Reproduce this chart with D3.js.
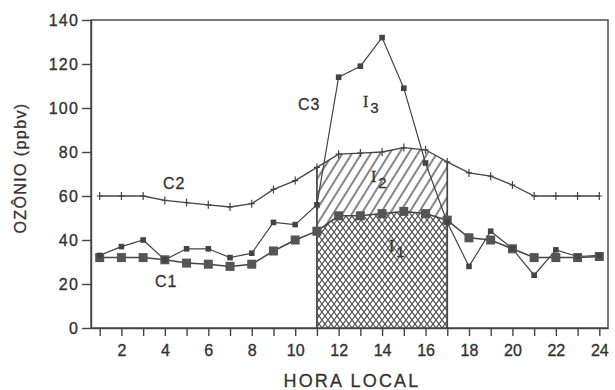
<!DOCTYPE html>
<html>
<head>
<meta charset="utf-8">
<script src="https://cdn.jsdelivr.net/npm/d3@7"></script>
<style>
  body { margin: 0; background: #fff; }
  svg { display: block; font-family: "Liberation Sans", Arial, sans-serif; }
  .axis text { font-size: 16px; fill: #333; stroke: #333; stroke-width: 0.35; }
  .axis path, .axis line { stroke: #444; stroke-width: 1.4; }
</style>
</head>
<body>
<svg class="oz"></svg>
<script>
// hour of day
var hours = [1,2,3,4,5,6,7,8,9,10,11,12,13,14,15,16,17,18,19,20,21,22,23,24];
// ozone, ppbv
var c1 = [32,32,32,31,29.5,29,28,29,35,40,44,51,51,52,53,52,49,41,40,36,32,32,32,32.5];
var c2 = [60,60,60,58,57,56,55,56.5,63,67,73,79,79.5,80,82,81,75.5,70.5,69,65,60,60,60,60];
var c3 = [33,37,40,31,36,36,32,34,48,47,56,114,119,132,109,75,48,28,44,36,24,35.5,32.5,33];
var yTicks = [0,20,40,60,80,100,120,140];
var areaStart = 11, areaEnd = 17;

var margin = {top: 20, right: 7, bottom: 62, left: 91},
    width = 615 - margin.left - margin.right,
    height = 390 - margin.top - margin.bottom;

var svg = d3.select(".oz")
    .attr("width", width + margin.left + margin.right)
    .attr("height", height + margin.top + margin.bottom)
  .append("g")
    .attr("transform", "translate(" + margin.left + "," + margin.top + ")");

var x = d3.scaleLinear().domain([0.6, 24.4]).range([0, width]);
var y = d3.scaleLinear().domain([0, 140]).range([height, 0]);

var ink = "#444";

// hatch patterns
var defs = svg.append("defs");
defs.append("pattern")
    .attr("id", "cross")
    .attr("width", 6).attr("height", 8)
    .attr("patternUnits", "userSpaceOnUse")
  .append("path")
    .attr("d", "M0,0L6,8M6,0L0,8")
    .attr("stroke", "#555").attr("stroke-width", 1.3);
defs.append("pattern")
    .attr("id", "diag")
    .attr("width", 8).attr("height", 8)
    .attr("patternUnits", "userSpaceOnUse")
    .attr("patternTransform", "rotate(32)")
  .append("line")
    .attr("x1", 4).attr("y1", 0).attr("x2", 4).attr("y2", 8)
    .attr("stroke", ink).attr("stroke-width", 1.3);

var data = hours.map(function(h, i) { return {h: h, c1: c1[i], c2: c2[i], c3: c3[i]}; });
var inside = data.filter(function(d) { return d.h >= areaStart && d.h <= areaEnd; });

// I1: 0 up to C1, I2: C1 up to C2
svg.append("path")
    .datum(inside)
    .attr("fill", "url(#cross)")
    .attr("d", d3.area().x(function(d) { return x(d.h); }).y0(y(0)).y1(function(d) { return y(d.c1); }));
svg.append("path")
    .datum(inside)
    .attr("fill", "url(#diag)")
    .attr("d", d3.area().x(function(d) { return x(d.h); }).y0(function(d) { return y(d.c1); }).y1(function(d) { return y(d.c2); }));

[inside[0], inside[inside.length - 1]].forEach(function(d) {
  svg.append("line")
      .attr("x1", x(d.h)).attr("x2", x(d.h))
      .attr("y1", y(0)).attr("y2", y(d.c2))
      .attr("stroke", ink).attr("stroke-width", 1.7);
});

// frame
svg.append("rect")
    .attr("width", width).attr("height", height)
    .attr("fill", "none").attr("stroke", ink).attr("stroke-width", 1.4);

var xAxis = d3.axisBottom(x)
    .tickValues(hours)
    .tickSize(8).tickSizeOuter(0).tickPadding(9)
    .tickFormat(function(d) { return d % 2 === 0 ? d : ""; });
var yAxis = d3.axisLeft(y)
    .tickValues(yTicks)
    .tickSize(9).tickSizeOuter(0).tickPadding(3);

svg.append("g")
    .attr("class", "x axis")
    .attr("transform", "translate(0," + height + ")")
    .call(xAxis);
svg.append("g")
    .attr("class", "y axis")
    .call(yAxis)
  .selectAll("text")
    .attr("letter-spacing", 1.2);

function line(key) {
  return d3.line().x(function(d) { return x(d.h); }).y(function(d) { return y(d[key]); });
}

svg.append("path").datum(data)
    .attr("fill", "none").attr("stroke", ink).attr("stroke-width", 1.3)
    .attr("d", line("c2"));
svg.append("path").datum(data)
    .attr("fill", "none").attr("stroke", ink).attr("stroke-width", 1.2)
    .attr("d", line("c3"));
svg.append("path").datum(data)
    .attr("fill", "none").attr("stroke", ink).attr("stroke-width", 1.5)
    .attr("d", line("c1"));

// markers
svg.selectAll(".m2").data(data).enter().append("path")
    .attr("class", "m2")
    .attr("stroke", ink).attr("stroke-width", 1.2)
    .attr("d", function(d) { var px = x(d.h), py = y(d.c2); return "M" + px + "," + (py - 4) + "V" + (py + 4) + "M" + (px - 3) + "," + py + "H" + (px + 3); });
svg.selectAll(".m1").data(data).enter().append("rect")
    .attr("class", "m1")
    .attr("x", function(d) { return x(d.h) - 4.5; })
    .attr("y", function(d) { return y(d.c1) - 4.5; })
    .attr("width", 9).attr("height", 9)
    .attr("fill", "#555");
svg.selectAll(".m3").data(data).enter().append("rect")
    .attr("class", "m3")
    .attr("x", function(d) { return x(d.h) - 2.8; })
    .attr("y", function(d) { return y(d.c3) - 2.8; })
    .attr("width", 5.6).attr("height", 5.6)
    .attr("fill", "#444");

// curve and area labels
var labels = svg.append("g").attr("fill", "#333").attr("stroke", "#333").attr("stroke-width", 0.3)
    .attr("font-size", 16).attr("letter-spacing", 1);
labels.append("text").attr("x", 163 - margin.left).attr("y", 189 - margin.top).text("C2");
labels.append("text").attr("x", 155 - margin.left).attr("y", 287 - margin.top).text("C1");
labels.append("text").attr("x", 298 - margin.left).attr("y", 110 - margin.top).text("C3");

function iLabel(px, py, sub) {
  var t = labels.append("text")
      .attr("x", px - margin.left).attr("y", py - margin.top)
      .attr("font-family", "'Liberation Serif', serif").attr("letter-spacing", 0);
  t.append("tspan").text("I");
  t.append("tspan").attr("dy", 6).attr("dx", 2)
      .attr("font-family", "'Liberation Sans', Arial, sans-serif").attr("font-size", 15).text(sub);
}
iLabel(363, 107, "3");
iLabel(371, 182, "2");
iLabel(389, 251, "1");

// axis titles
svg.append("text")
    .attr("transform", "translate(" + (26 - margin.left) + "," + (168 - margin.top) + ") rotate(-90)")
    .attr("text-anchor", "middle")
    .attr("font-size", 16).attr("letter-spacing", 1.4).attr("fill", "#333")
    .attr("stroke", "#333").attr("stroke-width", 0.3)
    .text("OZÔNIO (ppbv)");
svg.append("text")
    .attr("x", 352 - margin.left).attr("y", 387 - margin.top)
    .attr("text-anchor", "middle")
    .attr("font-size", 18).attr("letter-spacing", 2.2).attr("fill", "#333")
    .attr("stroke", "#333").attr("stroke-width", 0.3)
    .text("HORA LOCAL");
</script>
</body>
</html>
